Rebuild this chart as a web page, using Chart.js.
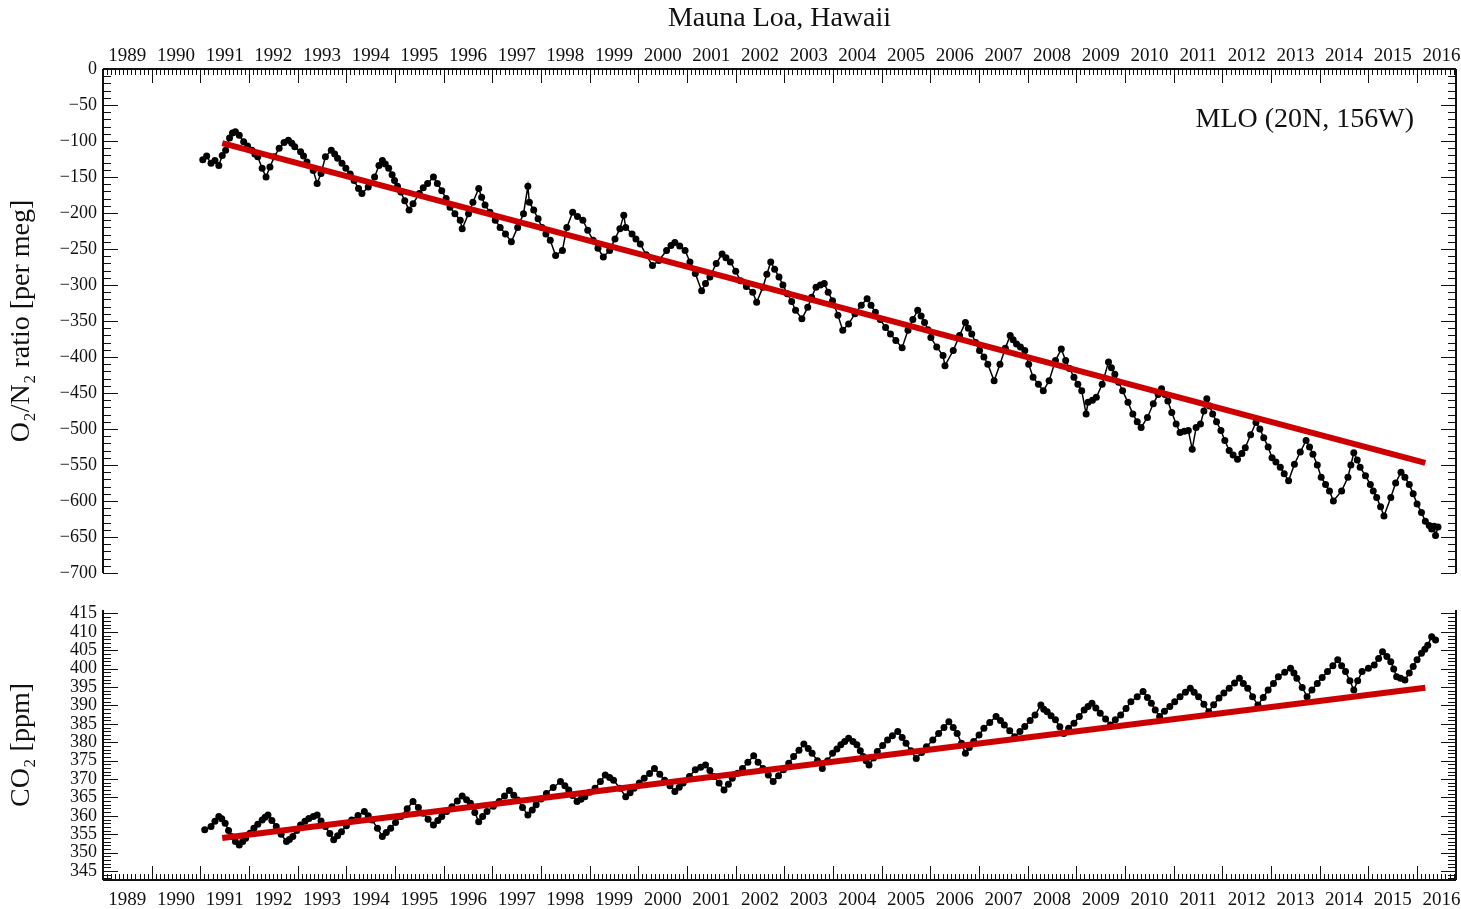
<!DOCTYPE html>
<html>
<head>
<meta charset="utf-8">
<script src="https://cdn.jsdelivr.net/npm/chart.js@4.4.1/dist/chart.umd.min.js"></script>
<style>
  body { margin: 0; background: #fff; }
  #wrap { position: relative; width: 1461px; height: 909px; }
  #top { position: absolute; left: 0; top: 0; }
  #bot { position: absolute; left: 0; top: 590px; }
</style>
</head>
<body>
<div id="wrap">
  <canvas id="top" width="1461" height="590"></canvas>
  <canvas id="bot" width="1461" height="319"></canvas>
</div>
<script>
// year labels (printed at mid-year, ticks at Jan 1)
var yearLabels = [1989,1990,1991,1992,1993,1994,1995,1996,1997,1998,1999,2000,2001,2002,
  2003,2004,2005,2006,2007,2008,2009,2010,2011,2012,2013,2014,2015,2016];
var o2Ticks = [0,-50,-100,-150,-200,-250,-300,-350,-400,-450,-500,-550,-600,-650,-700];
var co2Ticks = [345,350,355,360,365,370,375,380,385,390,395,400,405,410,415];

// O2/N2 (per meg)
var o2Time = [1991.05,1991.13,1991.22,1991.30,1991.38,1991.45,1991.52,1991.60,1991.66,1991.72,1991.80,1991.89,1991.97,
  1992.06,1992.12,1992.18,1992.27,1992.35,1992.43,1992.52,1992.62,1992.72,1992.81,1992.88,1992.94,
  1993.06,1993.12,1993.19,1993.32,1993.40,1993.48,1993.57,1993.69,1993.76,1993.82,1993.91,1993.99,
  1994.08,1994.16,1994.25,1994.32,1994.45,1994.58,1994.67,1994.74,1994.80,1994.87,1994.94,1994.99,
  1995.05,1995.12,1995.20,1995.29,1995.37,1995.50,1995.58,1995.67,1995.79,1995.87,1995.96,
  1996.05,1996.13,1996.23,1996.34,1996.38,1996.51,1996.60,1996.72,1996.78,1996.85,1996.95,
  1997.06,1997.16,1997.27,1997.39,1997.52,1997.64,1997.73,1997.76,1997.85,1997.94,
  1998.02,1998.10,1998.19,1998.30,1998.44,1998.53,1998.65,1998.75,1998.86,1998.96,
  1999.07,1999.17,1999.28,1999.41,1999.52,1999.62,1999.70,1999.74,1999.87,1999.95,
  2000.04,2000.16,2000.29,2000.42,2000.58,2000.67,2000.75,2000.85,2000.96,
  2001.06,2001.17,2001.30,2001.38,2001.47,2001.60,2001.72,2001.80,2001.89,
  2002.00,2002.10,2002.22,2002.35,2002.43,2002.56,2002.64,2002.72,2002.80,2002.89,2002.97,
  2003.06,2003.15,2003.23,2003.36,2003.48,2003.56,2003.65,2003.74,2003.82,2003.90,2003.99,
  2004.10,2004.20,2004.32,2004.45,2004.58,2004.70,2004.78,2004.87,2004.97,
  2005.08,2005.18,2005.29,2005.42,2005.54,2005.64,2005.74,2005.81,2005.88,2005.95,
  2006.01,2006.13,2006.26,2006.30,2006.47,2006.60,2006.72,2006.78,2006.85,2006.93,
  2007.01,2007.10,2007.18,2007.31,2007.43,2007.54,2007.64,2007.70,2007.77,2007.85,2007.94,
  2008.02,2008.11,2008.22,2008.32,2008.44,2008.57,2008.69,2008.78,2008.86,2008.95,
  2009.03,2009.11,2009.20,2009.24,2009.33,2009.41,2009.53,2009.66,2009.72,2009.79,2009.87,2009.95,
  2010.06,2010.16,2010.25,2010.33,2010.46,2010.58,2010.68,2010.75,2010.82,2010.88,2010.96,
  2011.05,2011.13,2011.22,2011.30,2011.38,2011.46,2011.55,2011.62,2011.68,2011.74,2011.80,2011.88,2011.97,
  2012.05,2012.14,2012.22,2012.31,2012.40,2012.47,2012.58,2012.69,2012.77,2012.85,2012.94,
  2013.02,2013.10,2013.19,2013.27,2013.36,2013.48,2013.60,2013.72,2013.79,2013.86,2013.95,
  2014.03,2014.12,2014.20,2014.28,2014.45,2014.58,2014.64,2014.70,2014.77,2014.83,2014.94,
  2015.04,2015.10,2015.17,2015.25,2015.32,2015.46,2015.56,2015.67,2015.75,2015.84,2015.92,
  2016.00,2016.09,2016.17,2016.25,2016.30,2016.35,2016.38,2016.43];
var o2Value = [-126,-121,-131,-127,-134,-120,-113,-96,-89,-87,-92,-101,-107,
  -113,-118,-122,-138,-150,-136,-122,-110,-102,-99,-103,-108,
  -115,-121,-129,-141,-159,-145,-122,-113,-118,-124,-131,-138,
  -146,-155,-166,-173,-164,-150,-134,-127,-132,-138,-147,-155,
  -163,-171,-183,-196,-187,-173,-165,-159,-150,-159,-169,
  -180,-192,-201,-210,-222,-201,-185,-166,-178,-189,-199,
  -210,-220,-229,-240,-220,-201,-163,-185,-196,-208,
  -220,-229,-238,-259,-252,-220,-199,-205,-210,-224,
  -238,-249,-261,-252,-236,-222,-203,-220,-229,-236,
  -243,-258,-273,-266,-252,-245,-241,-246,-252,
  -268,-284,-308,-298,-289,-270,-257,-262,-268,
  -281,-294,-302,-310,-324,-303,-285,-268,-278,-289,-300,
  -312,-323,-335,-347,-331,-317,-303,-300,-298,-310,-322,
  -342,-363,-354,-340,-328,-319,-328,-338,-348,
  -359,-368,-377,-387,-363,-348,-335,-343,-352,-362,
  -373,-386,-398,-412,-391,-370,-352,-360,-368,-380,
  -391,-400,-410,-433,-410,-388,-370,-376,-382,-386,-391,
  -410,-428,-438,-447,-433,-405,-389,-405,-416,-428,
  -438,-447,-479,-463,-460,-456,-438,-407,-415,-424,-435,-447,
  -463,-479,-490,-498,-484,-465,-452,-444,-452,-461,-477,
  -493,-505,-503,-502,-528,-498,-493,-475,-458,-468,-479,-490,-502,
  -516,-530,-536,-542,-534,-526,-508,-491,-500,-512,-525,
  -540,-546,-553,-562,-572,-549,-532,-516,-525,-535,-550,
  -567,-577,-586,-600,-586,-567,-550,-533,-543,-553,-565,
  -577,-586,-595,-608,-621,-595,-575,-560,-567,-577,-590,
  -604,-616,-628,-634,-639,-635,-648,-636];

// CO2 (ppm)
var co2Time = [1991.09,1991.22,1991.30,1991.38,1991.44,1991.51,1991.58,1991.64,1991.72,1991.80,1991.87,1991.93,
  1992.02,1992.10,1992.18,1992.27,1992.33,1992.39,1992.47,1992.56,1992.66,1992.77,1992.83,1992.90,1992.98,
  1993.06,1993.15,1993.23,1993.32,1993.40,1993.48,1993.57,1993.66,1993.74,1993.82,1993.90,
  1994.00,1994.11,1994.24,1994.37,1994.45,1994.53,1994.64,1994.74,1994.82,1994.91,
  1995.01,1995.12,1995.25,1995.37,1995.48,1995.58,1995.68,1995.79,1995.88,1995.96,
  1996.06,1996.17,1996.28,1996.38,1996.47,1996.55,1996.64,1996.72,1996.80,1996.89,
  1997.02,1997.14,1997.25,1997.35,1997.44,1997.52,1997.62,1997.73,1997.82,1997.90,
  1998.00,1998.11,1998.25,1998.40,1998.49,1998.57,1998.65,1998.74,1998.82,1998.90,
  1999.00,1999.11,1999.22,1999.32,1999.41,1999.49,1999.62,1999.74,1999.83,1999.91,
  2000.02,2000.12,2000.23,2000.33,2000.44,2000.54,2000.65,2000.75,2000.84,2000.92,
  2001.05,2001.17,2001.28,2001.38,2001.47,2001.55,2001.66,2001.76,2001.85,2001.93,
  2002.04,2002.14,2002.25,2002.37,2002.46,2002.56,2002.67,2002.77,2002.88,2002.98,
  2003.09,2003.19,2003.30,2003.40,2003.49,2003.57,2003.68,2003.78,2003.89,2003.99,
  2004.08,2004.16,2004.24,2004.32,2004.41,2004.49,2004.56,2004.62,2004.68,2004.74,2004.83,2004.91,
  2005.02,2005.12,2005.22,2005.33,2005.42,2005.50,2005.60,2005.71,2005.82,2005.92,
  2006.05,2006.17,2006.28,2006.38,2006.47,2006.55,2006.64,2006.72,2006.80,2006.89,
  2007.00,2007.10,2007.22,2007.35,2007.44,2007.52,2007.63,2007.73,2007.84,2007.94,
  2008.05,2008.15,2008.27,2008.33,2008.40,2008.48,2008.57,2008.66,2008.74,2008.84,2008.95,
  2009.06,2009.16,2009.24,2009.32,2009.40,2009.49,2009.60,2009.70,2009.80,2009.91,
  2010.02,2010.12,2010.25,2010.37,2010.46,2010.54,2010.62,2010.71,2010.81,2010.92,
  2011.02,2011.13,2011.24,2011.34,2011.42,2011.51,2011.62,2011.72,2011.82,2011.93,
  2012.03,2012.14,2012.25,2012.35,2012.43,2012.52,2012.62,2012.73,2012.84,2012.94,
  2013.05,2013.15,2013.28,2013.40,2013.47,2013.53,2013.64,2013.74,2013.84,2013.95,
  2014.05,2014.16,2014.27,2014.37,2014.45,2014.53,2014.62,2014.70,2014.78,2014.87,
  2015.00,2015.12,2015.21,2015.29,2015.38,2015.46,2015.52,2015.58,2015.66,2015.75,2015.84,2015.92,
  2016.00,2016.09,2016.16,2016.22,2016.30,2016.38];
var co2Value = [356.2,357.1,358.5,359.8,359.2,358.0,356.0,354.4,353.0,352.1,353.0,353.9,
  355.3,356.6,357.7,358.9,359.6,360.2,358.7,357.1,355.0,353.0,353.6,354.4,356.0,
  357.5,358.5,359.3,359.8,360.2,358.6,357.1,355.2,353.5,354.6,355.7,
  357.3,358.9,360.1,361.2,360.0,358.9,356.6,354.4,355.5,356.6,
  358.2,359.8,361.9,363.9,362.3,360.7,359.1,357.5,358.7,359.8,
  361.2,362.5,364.0,365.4,364.4,363.4,360.9,358.4,359.8,361.2,
  362.6,363.9,365.4,366.9,365.6,364.3,362.3,360.2,361.6,363.0,
  364.6,366.1,367.7,369.3,368.2,367.0,365.5,363.9,364.5,365.2,
  366.4,367.5,369.3,371.1,370.4,369.7,367.5,365.2,366.3,367.5,
  368.9,370.2,371.5,372.9,371.3,369.7,368.2,366.6,367.8,368.9,
  370.7,372.5,373.2,373.8,372.3,370.7,368.9,367.0,368.6,370.2,
  371.6,372.9,374.6,376.3,374.6,372.9,371.1,369.3,370.9,372.5,
  374.3,376.1,377.8,379.5,378.3,377.0,375.0,372.9,375.0,377.0,
  378.2,379.3,380.2,381.1,380.2,379.3,377.7,376.1,375.0,373.8,375.7,377.5,
  379.1,380.6,381.8,382.9,381.3,379.7,377.7,375.6,377.2,378.8,
  380.6,382.4,384.0,385.6,384.0,382.4,379.7,377.0,378.6,380.2,
  382.0,383.8,385.4,387.0,385.9,384.7,383.1,381.5,382.9,384.3,
  385.9,387.4,390.1,389.0,388.3,387.2,386.1,384.2,382.4,383.8,385.2,
  387.0,388.8,389.7,390.6,389.3,387.9,386.3,384.7,386.1,387.4,
  389.2,391.0,392.4,393.8,392.2,390.6,388.8,387.0,388.4,389.7,
  391.0,392.4,393.6,394.7,393.6,392.4,390.3,388.3,390.2,392.0,
  393.4,394.7,396.1,397.4,396.0,394.7,392.4,390.1,392.2,394.2,
  396.0,397.8,399.0,400.1,398.8,397.4,394.9,392.4,394.2,396.0,
  397.6,399.2,400.8,402.4,400.8,399.2,396.7,394.2,396.7,399.2,
  400.1,401.0,402.8,404.6,403.3,401.9,399.9,397.8,397.4,396.9,398.8,400.6,
  402.4,404.2,405.3,406.4,408.7,407.8];

// red trend lines (end points)
var o2TrendTime = [1991.45, 2016.17];
var o2TrendValue = [-103, -547];
var co2TrendTime = [1991.45, 2016.17];
var co2TrendValue = [354.0, 394.8];

var serif = '"Liberation Serif", "Times New Roman", serif';
var ink = '#111';

function pairs(xs, ys) {
  return xs.map(function(x, i){ return {x: x, y: ys[i]}; });
}

function minusLabel(v) {
  return v < 0 ? '\u2212' + Math.abs(v) : String(v);
}

// frame lines and inward tick marks, IDL style
var frameTicks = {
  id: 'frameTicks',
  afterDraw: function(chart, args, opts) {
    var ctx = chart.ctx, a = chart.chartArea;
    var xs = chart.scales.x, ys = chart.scales.y;
    var edge = opts.edge === 'top' ? a.top : a.bottom;
    var dir = opts.edge === 'top' ? 1 : -1;
    ctx.save();
    ctx.strokeStyle = ink;
    ctx.lineWidth = 2;
    ctx.beginPath();
    ctx.moveTo(a.left, a.top); ctx.lineTo(a.left, a.bottom);
    ctx.moveTo(a.right, a.top); ctx.lineTo(a.right, a.bottom);
    ctx.moveTo(a.left, edge); ctx.lineTo(a.right, edge);
    ctx.stroke();

    ctx.lineWidth = 1;
    ctx.beginPath();
    for (var m = Math.ceil(xs.min * 12); m <= Math.floor(xs.max * 12); m++) {
      var px = Math.round(xs.getPixelForValue(m / 12)) + 0.5;
      var len = (m % 12 === 0) ? 14 : 6;
      ctx.moveTo(px, edge); ctx.lineTo(px, edge + dir * len);
    }
    for (var k = Math.ceil(ys.min / opts.minor); k <= Math.floor(ys.max / opts.minor); k++) {
      var v = k * opts.minor;
      var py = Math.round(ys.getPixelForValue(v)) + 0.5;
      var l2 = (v % opts.major === 0) ? 15 : 8;
      ctx.moveTo(a.left, py); ctx.lineTo(a.left + l2, py);
      ctx.moveTo(a.right, py); ctx.lineTo(a.right - l2, py);
    }
    ctx.stroke();

    if (opts.label) {
      ctx.fillStyle = ink;
      ctx.font = '28px ' + serif;
      ctx.textAlign = 'right';
      ctx.textBaseline = 'middle';
      ctx.fillText(opts.label, a.right - 42, a.top + 51);
    }
    ctx.restore();
  }
};

function xAxis(pos, withTitle) {
  return {
    type: 'linear', position: pos, min: 1989, max: 2016.8,
    grid: {display: false, drawTicks: false},
    border: {display: false},
    afterBuildTicks: function(s) {
      s.ticks = yearLabels.map(function(y){ return {value: y + 0.5}; });
    },
    afterFit: function(s) {
      s.height = pos === 'top' ? 69 : 29;
      s.paddingLeft = 0; s.paddingRight = 0;
    },
    ticks: {
      autoSkip: false, maxRotation: 0, padding: pos === 'top' ? 2 : 9,
      color: ink, font: {family: serif, size: 19},
      callback: function(v) { return String(Math.floor(v)); }
    },
    title: {
      display: withTitle, text: 'Mauna Loa, Hawaii', color: ink,
      font: {family: serif, size: 28}, padding: {top: 2, bottom: 0}
    }
  };
}

function yAxis(min, max, ticks, title) {
  return {
    min: min, max: max,
    grid: {display: false, drawTicks: false},
    border: {display: false},
    afterBuildTicks: function(s) {
      s.ticks = ticks.map(function(v){ return {value: v}; });
    },
    afterFit: function(s) {
      s.width = 103;
      s.paddingTop = 0; s.paddingBottom = 0;
    },
    ticks: {autoSkip: false, padding: 6, color: ink, font: {family: serif, size: 18}, callback: minusLabel},
    title: {display: true, text: title, color: ink, font: {family: serif, size: 28}, padding: {top: 5, bottom: 0}}
  };
}

function seriesSets(t, v, tt, tv) {
  return [
    {
      data: pairs(tt, tv), order: 0, showLine: true,
      borderColor: '#cc0000', borderWidth: 6, pointRadius: 0, borderCapStyle: 'butt'
    },
    {
      data: pairs(t, v), order: 1, showLine: true,
      borderColor: '#000', borderWidth: 1.5,
      pointRadius: 3.5, pointBackgroundColor: '#000', pointBorderWidth: 0
    }
  ];
}

var common = {
  responsive: false, animation: false,
  events: []
};

new Chart(document.getElementById('top').getContext('2d'), {
  type: 'scatter',
  data: {datasets: seriesSets(o2Time, o2Value, o2TrendTime, o2TrendValue)},
  options: Object.assign({}, common, {
    layout: {padding: {left: 0, right: 5, top: 0, bottom: 17}},
    scales: {
      x: xAxis('top', true),
      y: yAxis(-700, 0, o2Ticks, 'O\u2082/N\u2082 ratio [per meg]')
    },
    plugins: {
      legend: {display: false}, tooltip: {enabled: false},
      frameTicks: {edge: 'top', minor: 10, major: 50, label: 'MLO (20N, 156W)'}
    }
  }),
  plugins: [frameTicks]
});

new Chart(document.getElementById('bot').getContext('2d'), {
  type: 'scatter',
  data: {datasets: seriesSets(co2Time, co2Value, co2TrendTime, co2TrendValue)},
  options: Object.assign({}, common, {
    layout: {padding: {left: 0, right: 5, top: 20, bottom: 0}},
    scales: {
      x: xAxis('bottom', false),
      y: yAxis(342.56, 415.95, co2Ticks, 'CO\u2082 [ppm]')
    },
    plugins: {
      legend: {display: false}, tooltip: {enabled: false},
      frameTicks: {edge: 'bottom', minor: 1, major: 5}
    }
  }),
  plugins: [frameTicks]
});
</script>
</body>
</html>
